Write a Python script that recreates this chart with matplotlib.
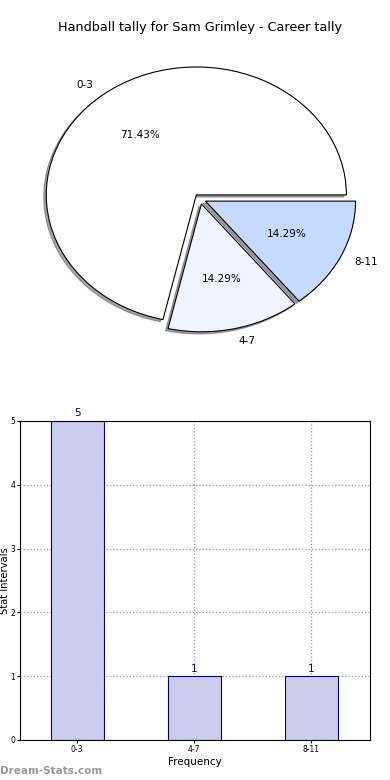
import matplotlib
matplotlib.use("Agg")
import matplotlib.pyplot as plt

categories = ["0-3", "4-7", "8-11"]
counts = [5, 1, 1]
pie_colors = ["#ffffff", "#eef3ff", "#c6d9ff"]
title = "Handball tally for Sam Grimley - Career tally"

fig = plt.figure(figsize=(3.9, 7.8), dpi=100)

# Pie
axp = fig.add_axes([0.032, 0.54, 0.962, 0.41])
wedges, texts, autotexts = axp.pie(
    counts, labels=categories, colors=pie_colors, explode=[0.04] * 3,
    autopct="%.2f%%", shadow={"ox": -0.012, "oy": -0.012, "alpha": 0.5},
    startangle=0, counterclock=True,
    wedgeprops=dict(edgecolor="black", linewidth=0.8),
    textprops=dict(fontsize=7.5))
axp.set_aspect("auto")
axp.set_xlim(-1.25, 1.25)
axp.set_ylim(-1.25, 1.25)
axp.set_title(title, fontsize=9.2, pad=6)

# Bars
axb = fig.add_axes([0.051, 0.0513, 0.897, 0.409])
x = list(range(len(categories)))
bars = axb.bar(x, counts, width=0.45, color="#ccccee", edgecolor="navy", linewidth=0.8, zorder=2)
for xi, c in zip(x, counts):
    axb.text(xi, c + 0.04, str(c), ha="center", va="bottom", color="navy", fontsize=7.5)
axb.set_xlim(-0.49, 2.5)
axb.set_ylim(0, 5)
axb.set_xticks(x)
axb.set_xticklabels(categories)
axb.set_yticks(range(0, 6))
axb.tick_params(labelsize=5.5, length=2, pad=1.5)
axb.grid(True, linestyle=":", color="#999999", linewidth=0.9, zorder=0)
axb.set_axisbelow(True)
axb.set_xlabel("Frequency", fontsize=7.5, labelpad=2)
axb.set_ylabel("Stat Intervals", fontsize=7.2)
axb.yaxis.set_label_coords(-0.028, 0.5)

fig.text(0.0, 0.005, "Dream-Stats.com", color="#999999", fontsize=7.5, fontweight="bold", ha="left", va="bottom")

fig.savefig("out.png", dpi=100)
